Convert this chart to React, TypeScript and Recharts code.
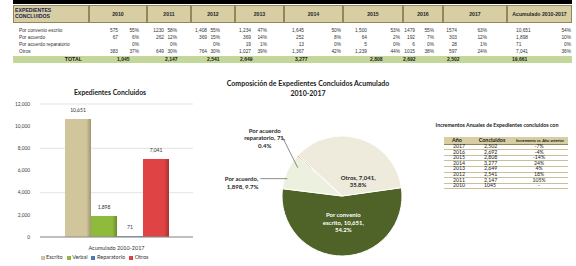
import React from 'react';
import { BarChart, Bar, XAxis, YAxis, CartesianGrid, Legend, LabelList, PieChart, Pie, Cell } from 'recharts';

// --- top table (strings kept as printed in the source sheet) ---
const years = ['2010', '2011', '2012', '2013', '2014', '2015', '2016', '2017'];
const rowLabels = ['Por convenio escrito', 'Por acuerdo', 'Por acuerdo reparatorio', 'Otros'];
const escritoCounts = ['575', '1230', '1,408', '1,234', '1,645', '1,500', '1479', '1574', '10,651'];
const escritoPct = ['55%', '58%', '55%', '47%', '50%', '53%', '55%', '63%', '54%'];
const acuerdoCounts = ['67', '262', '369', '369', '252', '64', '192', '303', '1,898'];
const acuerdoPct = ['6%', '12%', '15%', '14%', '8%', '2%', '7%', '12%', '10%'];
const reparatorioCounts = ['', '', '', '19', '13', '5', '6', '28', '71'];
const reparatorioPct = ['0%', '0%', '0%', '1%', '0%', '0%', '0%', '1%', '0%'];
const otrosCounts = ['383', '649', '764', '1,027', '1,367', '1,239', '1015', '597', '7,041'];
const otrosPct = ['37%', '30%', '30%', '39%', '42%', '44%', '38%', '24%', '36%'];
const totals = ['1,045', '2,147', '2,541', '2,649', '3,277', '2,808', '2,692', '2,502', '19,661'];

// --- bar chart ---
const barCategory = 'Acumulado 2010-2017';
const barSeries = ['Escrito', 'Verbal', 'Reparatorio', 'Otros'];
const barValues = [10651, 1898, 71, 7041];
const yTicks = [0, 2000, 4000, 6000, 8000, 10000, 12000];

// --- pie chart ---
const pieNames = ['Por convenio escrito', 'Por acuerdo', 'Por acuerdo reparatorio', 'Otros'];
const pieValues = [10651, 1898, 71, 7041];

// --- right table ---
const incYears = ['2017', '2016', '2015', '2014', '2013', '2012', '2011', '2010'];
const incCounts = ['2,502', '2,692', '2,808', '3,277', '2,649', '2,541', '2,147', '1045'];
const incChange = ['-7%', '-4%', '-14%', '24%', '4%', '18%', '105%', '-'];

// layout
const colEdges = [13, 89, 147, 191, 235, 284, 343, 403, 443, 507, 572];
const numRight = [118, 164, 207, 251, 304, 367, 415, 457, 0];
const pctRight = [139, 177, 220, 267, 341, 400, 434, 487, 571];
const totalLeft = [117, 165, 207, 240, 295, 370, 403, 447, 512];
const rowY = [26.5, 33.5, 40.5, 47.5];

const barColors = ['#d1c69b', '#8fba3c', '#4a7ebb', '#df4343'];
const pieColors = ['#4f6228', '#ebf1de', '#bf6f3a', '#eeebdc'];

const ARIAL = '"Liberation Sans", Arial, sans-serif';
const LATO = 'Lato, "Open Sans", sans-serif';
const HEAD_BG = '#d7cea4';
const HEAD_LINE = '#93875a';

const TILT = 0.7;
const DEPTH = 6;
const RAD = Math.PI / 180;

const darken = (hex: string, k: number) => {
  const n = parseInt(hex.slice(1), 16);
  const r = Math.round(((n >> 16) & 255) * k);
  const g = Math.round(((n >> 8) & 255) * k);
  const b = Math.round((n & 255) * k);
  return `rgb(${r},${g},${b})`;
};

const ellPt = (cx: number, cy: number, r: number, a: number) => [cx + r * Math.cos(a * RAD), cy - r * TILT * Math.sin(a * RAD)];

function TiltedSector(props: any) {
  const { cx, cy, outerRadius, startAngle, endAngle, fill } = props;
  const steps = Math.max(2, Math.ceil(Math.abs(endAngle - startAngle)));
  const pts: number[][] = [];
  for (let i = 0; i <= steps; i++) {
    const a = startAngle + ((endAngle - startAngle) * i) / steps;
    const [x, y] = ellPt(cx, cy, outerRadius, a);
    pts.push([a, x, y]);
  }
  const top = `M${cx},${cy} ` + pts.map((p) => `L${p[1]},${p[2]}`).join(' ') + ' Z';
  const low = pts.filter((p) => Math.sin(p[0] * RAD) <= 0.001);
  let side = null;
  if (low.length > 1) {
    const d =
      'M' + low.map((p) => `${p[1]},${p[2]}`).join(' L') + ' ' +
      low.slice().reverse().map((p) => `L${p[1]},${p[2] + DEPTH}`).join(' ') + ' Z';
    side = <path d={d} fill={darken(fill, 0.72)} />;
  }
  return (
    <g>
      {side}
      <path d={top} fill={fill} stroke="#c8c8c8" strokeWidth={0.6} />
    </g>
  );
}

const pieLabelStyle: any[] = [
  { mode: 'in', f: 0.62, dx: 1, dy: 0, color: '#ffffff', wrap: [2, 2, 1] },
  { mode: 'out', tx: -29, ty: 0, anchor: 'end', lx: -27, ly: 0, color: '#262626', wrap: [2, 2] },
  { mode: 'out', tx: -33, ty: -37.5, anchor: 'middle', lx: -15, ly: -30, color: '#262626', wrap: [2, 2, 1] },
  { mode: 'in', f: 0.45, dx: 8, dy: 3, color: '#262626', wrap: [2, 1] },
];

function renderPieLabel(props: any) {
  const { cx, cy, midAngle, outerRadius, percent, index, value } = props;
  const st = pieLabelStyle[index];
  const words = `${pieNames[index]}, ${Number(value).toLocaleString('en-US')}, ${(percent * 100).toFixed(1)}%`.split(' ');
  const lines: string[] = [];
  let k = 0;
  st.wrap.forEach((n: number) => {
    lines.push(words.slice(k, k + n).join(' '));
    k += n;
  });
  const LH = 7.5;
  if (st.mode === 'in') {
    const [px, py] = ellPt(cx, cy, outerRadius * st.f, midAngle);
    const x = px + st.dx;
    const y0 = py + st.dy - ((lines.length - 1) * LH) / 2;
    return (
      <g key={`pl-${index}`}>
        {lines.map((l, i) => (
          <text key={i} x={x} y={y0 + i * LH} textAnchor="middle" dominantBaseline="central" fill={st.color} fontSize={6} fontWeight={700} fontFamily={LATO}>
            {l}
          </text>
        ))}
      </g>
    );
  }
  const [px, py] = ellPt(cx, cy, outerRadius, midAngle);
  return (
    <g key={`pl-${index}`}>
      <line x1={px} y1={py} x2={px + st.lx} y2={py + st.ly} stroke="#404040" strokeWidth={0.6} />
      {lines.map((l, i) => (
        <text key={i} x={px + st.tx} y={py + st.ty + i * LH} textAnchor={st.anchor} dominantBaseline="central" fill={st.color} fontSize={6} fontWeight={700} fontFamily={LATO}>
          {l}
        </text>
      ))}
    </g>
  );
}

const Txt = ({ x, y, w, h, align = 'left', size = 5, bold = false, color = '#222', family = ARIAL, children }: any) => (
  <div
    style={{
      position: 'absolute', left: x, top: y, width: w, height: h, lineHeight: `${h}px`, textAlign: align,
      fontSize: size, fontWeight: bold ? 700 : 400, color, fontFamily: family, whiteSpace: 'nowrap',
    }}
  >
    {children}
  </div>
);

function TopTable() {
  const counts = [escritoCounts, acuerdoCounts, reparatorioCounts, otrosCounts];
  const pcts = [escritoPct, acuerdoPct, reparatorioPct, otrosPct];
  const heads = [...years, 'Acumulado 2010-2017'];
  return (
    <>
      <div style={{ position: 'absolute', left: 13, top: 0, width: 559, height: 3.5, background: '#000' }} />
      {colEdges.slice(0, -1).map((x, i) => (
        <div
          key={i}
          style={{
            position: 'absolute', left: x, top: 5, width: colEdges[i + 1] - x, height: 18,
            background: HEAD_BG, border: `0.8px solid ${HEAD_LINE}`, boxSizing: 'border-box',
          }}
        />
      ))}
      <div style={{ position: 'absolute', left: 15, top: 6.5, fontFamily: ARIAL, fontSize: 5.2, fontWeight: 700, lineHeight: '6.5px', color: '#1b1b48' }}>
        EXPEDIENTES<br />CONCLUIDOS
      </div>
      {heads.map((h, i) => (
        <Txt key={h} x={colEdges[i + 1]} y={5} w={colEdges[i + 2] - colEdges[i + 1]} h={18} align="center" size={5.2} bold color="#262626">
          {h}
        </Txt>
      ))}
      {rowLabels.map((l, r) => (
        <React.Fragment key={l}>
          <Txt x={19} y={rowY[r]} w={70} h={7} size={4.8} color="#333">{l}</Txt>
          {counts[r].map((c, i) =>
            i === 8 ? (
              <Txt key={`c${i}`} x={516} y={rowY[r]} w={40} h={7} size={4.8} color="#333">{c}</Txt>
            ) : (
              <Txt key={`c${i}`} x={numRight[i] - 40} y={rowY[r]} w={40} h={7} align="right" size={4.8} color="#333">{c}</Txt>
            )
          )}
          {pcts[r].map((p, i) => (
            <Txt key={`p${i}`} x={pctRight[i] - 30} y={rowY[r]} w={30} h={7} align="right" size={4.8} color="#333">{p}</Txt>
          ))}
        </React.Fragment>
      ))}
      <div style={{ position: 'absolute', left: 13, top: 56, width: 559, height: 7, background: '#c4d79b' }} />
      <Txt x={22} y={56} w={60} h={7} align="right" size={5.3} bold color="#1a1a1a">TOTAL</Txt>
      {totals.map((t, i) => (
        <Txt key={t} x={totalLeft[i]} y={56} w={40} h={7} size={5} bold color="#1a1a1a">{t}</Txt>
      ))}
    </>
  );
}

function RightTable() {
  return (
    <>
      <Txt x={417} y={121} w={160} h={8} align="center" size={5.3} bold family={LATO} color="#1a1a1a">
        Incrementos Anuales de Expedientes concluidos con
      </Txt>
      <div style={{ position: 'absolute', left: 444, top: 136.5, width: 124, height: 7.5, background: HEAD_BG, borderBottom: `0.8px solid ${HEAD_LINE}` }} />
      <Txt x={444} y={136.5} w={26} h={7.5} align="center" size={5.4} bold family={LATO} color="#1a1a1a">Año</Txt>
      <Txt x={472} y={136.5} w={40} h={7.5} align="center" size={5.4} bold family={LATO} color="#1a1a1a">Concluidos</Txt>
      <Txt x={512} y={136.5} w={56} h={7.5} align="center" size={3.9} bold family={LATO} color="#1a1a1a">Incremento vs. Año anterior</Txt>
      {incYears.map((y, i) => (
        <React.Fragment key={y}>
          <div style={{ position: 'absolute', left: 444, top: 144 + i * 5.6 + 5.1, width: 124, height: 0.6, background: '#c8c09a' }} />
          <Txt x={425} y={144 + i * 5.6} w={40} h={5.6} align="right" size={5.2} family={LATO} color="#222">{y}</Txt>
          <Txt x={484} y={144 + i * 5.6} w={30} h={5.6} size={5.2} family={LATO} color="#222">{incCounts[i]}</Txt>
          <Txt x={519} y={144 + i * 5.6} w={40} h={5.6} align="center" size={5.2} family={LATO} color="#222">{incChange[i]}</Txt>
        </React.Fragment>
      ))}
    </>
  );
}

export default function App() {
  const barRow: any = { name: barCategory };
  barSeries.forEach((s, i) => (barRow[s] = barValues[i]));
  const barData = [barRow];
  const pieData = pieNames.map((n, i) => ({ name: n, value: pieValues[i] }));

  return (
    <div style={{ position: 'absolute', left: 0, top: 0, width: 576, height: 266, overflow: 'hidden', background: '#fff' }}>
      <style>{`.recharts-legend-item{margin-right:4px !important}.recharts-legend-item svg{margin-right:1.5px !important}`}</style>
      <TopTable />

      {/* bar chart */}
      <Txt x={10} y={87} w={200} h={10} align="center" size={6.8} bold family={LATO} color="#1a1a1a">
        Expedientes Concluidos
      </Txt>
      <div style={{ position: 'absolute', left: 0, top: 80 }}>
        <BarChart width={200} height={186} data={barData} margin={{ top: 24, right: 7, left: 0, bottom: 0 }} barGap={0} barSize={26}>
          <defs>
            {barColors.map((c, i) => (
              <linearGradient key={i} id={`bg${i}`} x1="0" y1="0" x2="1" y2="0">
                <stop offset="0%" stopColor={c} />
                <stop offset="82%" stopColor={c} />
                <stop offset="100%" stopColor={darken(c, 0.75)} />
              </linearGradient>
            ))}
          </defs>
          <CartesianGrid vertical={false} stroke="#d9d9d9" strokeWidth={0.7} />
          <XAxis
            dataKey="name"
            tickLine={false}
            stroke="#8c8c8c"
            height={14}
            tickMargin={3}
            tick={{ fontSize: 5.5, fill: '#333', fontFamily: LATO }}
          />
          <YAxis
            domain={[0, 12000]}
            ticks={yTicks}
            width={40}
            axisLine={false}
            tickLine={false}
            tickMargin={4}
            tickFormatter={(v: number) => v.toLocaleString('en-US')}
            tick={{ fontSize: 4.8, fill: '#404040', fontFamily: LATO }}
          />
          <Legend
            verticalAlign="bottom"
            height={15}
            iconType="square"
            iconSize={4}
            itemSorter={(item: any) => barSeries.indexOf(item.value)}
            wrapperStyle={{ fontSize: 5.5, fontFamily: LATO, paddingTop: 3, boxSizing: 'border-box' }}
            formatter={(v: string) => <span style={{ color: '#333' }}>{v}</span>}
          />
          {barSeries.map((s, i) => (
            <Bar key={s} dataKey={s} fill={`url(#bg${i})`} isAnimationActive={false} legendType="square">
              <LabelList
                dataKey={s}
                position="top"
                offset={7}
                formatter={(v: any) => Number(v).toLocaleString('en-US')}
                style={{ fontSize: 5, fill: '#333', fontFamily: LATO }}
              />
            </Bar>
          ))}
        </BarChart>
      </div>

      {/* pie chart */}
      <Txt x={208} y={78} w={200} h={10} align="center" size={7} bold family={LATO} color="#1a1a1a">
        Composición de Expedientes Concluidos Acumulado
      </Txt>
      <Txt x={208} y={88} w={200} h={10} align="center" size={7} bold family={LATO} color="#1a1a1a">
        2010-2017
      </Txt>
      <div style={{ position: 'absolute', left: 200, top: 100 }}>
        <PieChart width={210} height={166}>
          <Pie
            data={pieData}
            dataKey="value"
            nameKey="name"
            cx={137}
            cy={91}
            outerRadius={60}
            startAngle={8}
            endAngle={-352}
            isAnimationActive={false}
            inactiveShape={TiltedSector}
            activeShape={TiltedSector}
            labelLine={false}
            label={renderPieLabel}
          >
            {pieData.map((d, i) => (
              <Cell key={d.name} fill={pieColors[i]} />
            ))}
          </Pie>
        </PieChart>
      </div>

      <RightTable />
    </div>
  );
}
